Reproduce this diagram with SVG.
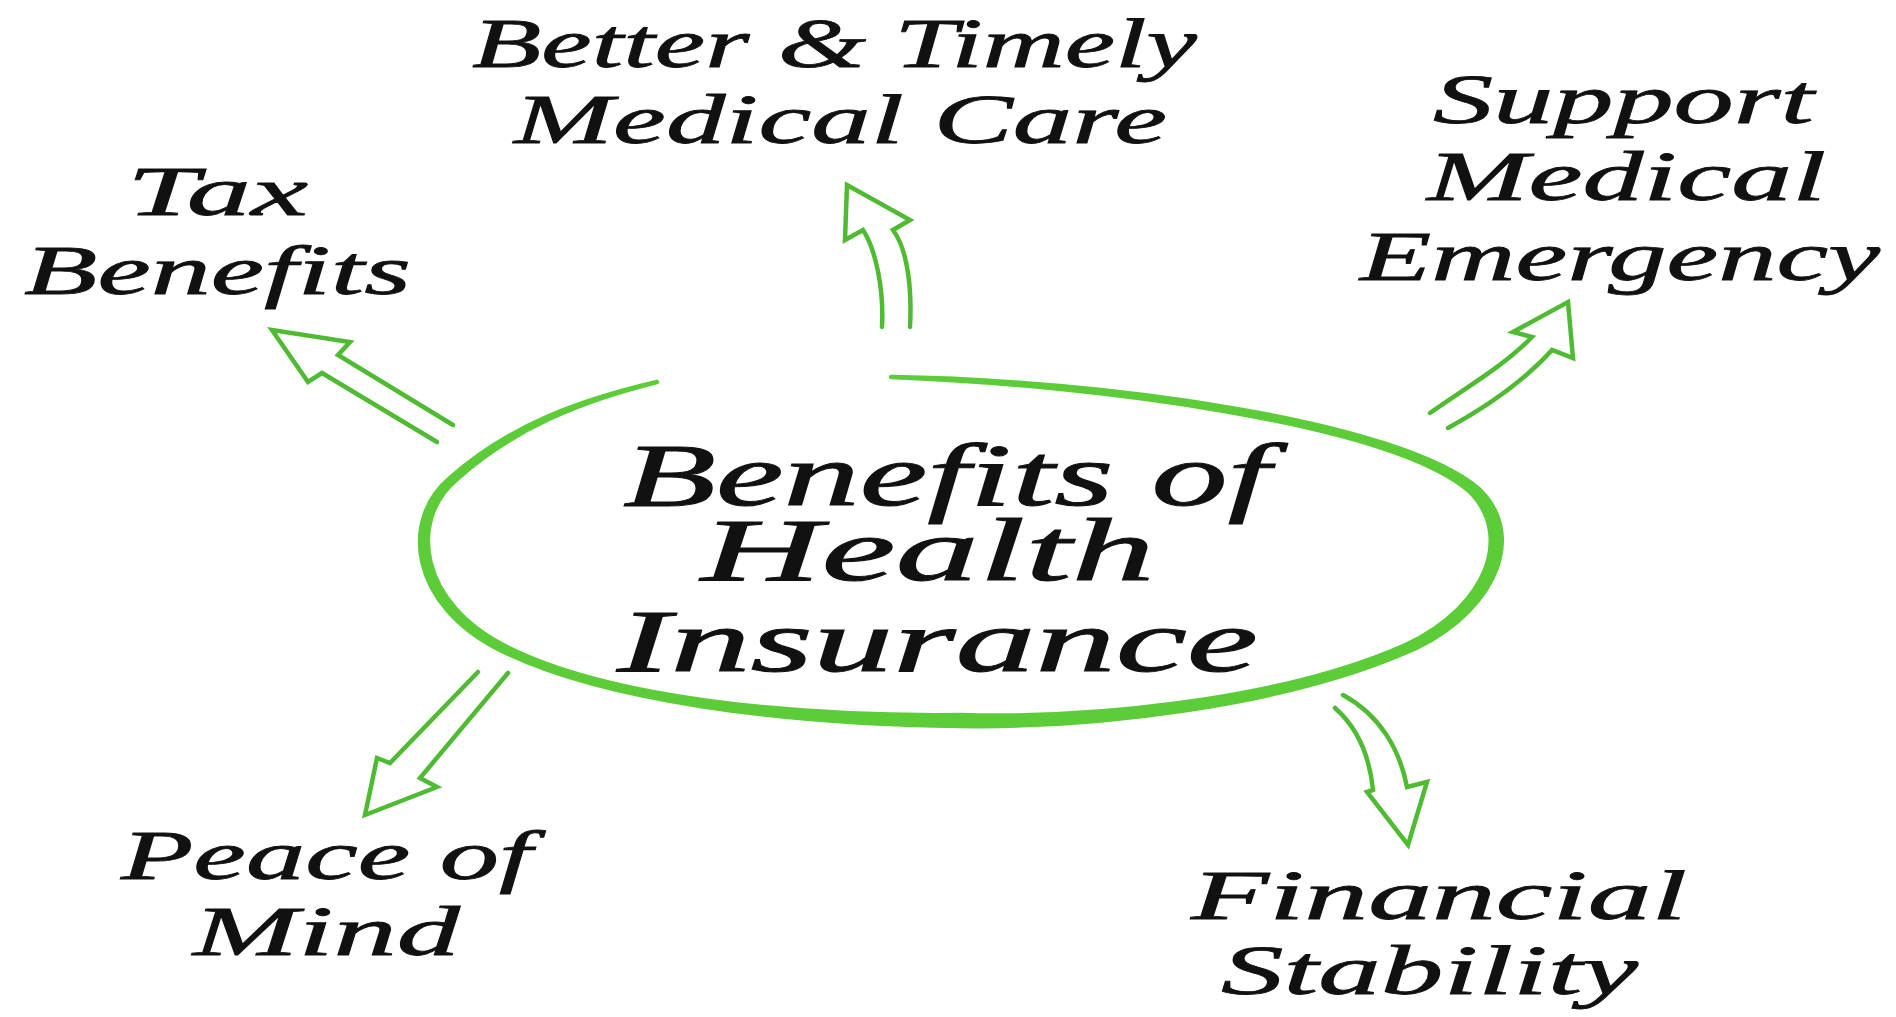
<svg xmlns="http://www.w3.org/2000/svg" width="1896" height="1017" viewBox="0 0 1896 1017">
<style>
.lbl{font-family:"Liberation Serif","DejaVu Serif",serif;font-style:italic;font-size:70px;fill:#111;stroke:#111;stroke-width:0.8;}
.ctr{font-family:"Liberation Serif","DejaVu Serif",serif;font-style:italic;font-size:88px;fill:#111;stroke:#111;stroke-width:1;}
.arr{fill:none;stroke:#4fbb33;stroke-width:4.5;stroke-linejoin:miter;stroke-linecap:round;}
.ring{fill:#5ccc38;stroke:#5ccc38;stroke-width:4.5;stroke-linejoin:round;stroke-linecap:round;}
</style>
<rect width="1896" height="1017" fill="#ffffff"/>
<g id="connectors">
  <polyline class="arr" points="453,425 338,355 350,342 272,330 308,382 322,373 437,442"/>
  <path class="arr" d="M910,327 C912,290 908,250 893,230 L910,220 L847,185 L845,240 L863,230 C876,250 884,290 882,327"/>
  <path class="arr" d="M1430,413 C1470,385 1505,365 1532,337 L1513,332 L1568,302 L1573,358 L1552,350 C1525,380 1490,405 1448,428"/>
  <path class="arr" d="M478,672 L390,763 L377,758 L365,815 L437,787 L420,778 L508,673"/>
  <path class="arr" d="M1335,708 C1360,730 1370,760 1373,790 L1367,792 L1408,845 L1427,782 L1407,787 C1400,750 1380,715 1343,695"/>
</g>
<g id="center">
  <path class="ring" d="M891,377 C1100,380 1400,420 1480,490 C1530,540 1490,620 1400,655 C1280,705 1100,728 960,726 C780,724 600,700 500,650 C410,605 400,520 450,478 C510,425 580,400 657,382 C581,401 514,428 457,479 C408,520 418,604 509,648 C608,697 787,717 960,715 C1093,719 1270,700 1389,652 C1479,619 1519,540 1469,491 C1389,423 1096,385 891,377 Z"/>
  <text class="ctr" x="623" y="505" textLength="647" lengthAdjust="spacingAndGlyphs">Benefits of</text>
  <text class="ctr" x="701" y="580" textLength="454" lengthAdjust="spacingAndGlyphs">Health</text>
  <text class="ctr" x="617" y="671" textLength="641" lengthAdjust="spacingAndGlyphs">Insurance</text>
</g>
<g id="node-care">
  <text class="lbl" x="472" y="67" textLength="725" lengthAdjust="spacingAndGlyphs">Better &amp; Timely</text>
  <text class="lbl" x="514" y="143" textLength="653" lengthAdjust="spacingAndGlyphs">Medical Care</text>
</g>
<g id="node-tax">
  <text class="lbl" x="127" y="215" textLength="181" lengthAdjust="spacingAndGlyphs">Tax</text>
  <text class="lbl" x="24" y="294" textLength="387" lengthAdjust="spacingAndGlyphs">Benefits</text>
</g>
<g id="node-emergency">
  <text class="lbl" x="1433" y="123" textLength="381" lengthAdjust="spacingAndGlyphs">Support</text>
  <text class="lbl" x="1427" y="200" textLength="399" lengthAdjust="spacingAndGlyphs">Medical</text>
  <text class="lbl" x="1360" y="280" textLength="520" lengthAdjust="spacingAndGlyphs">Emergency</text>
</g>
<g id="node-peace">
  <text class="lbl" x="121" y="879" textLength="411" lengthAdjust="spacingAndGlyphs">Peace of</text>
  <text class="lbl" x="193" y="955" textLength="267" lengthAdjust="spacingAndGlyphs">Mind</text>
</g>
<g id="node-financial">
  <text class="lbl" x="1191" y="919" textLength="496" lengthAdjust="spacingAndGlyphs">Financial</text>
  <text class="lbl" x="1221" y="994" textLength="417" lengthAdjust="spacingAndGlyphs">Stability</text>
</g>
</svg>
